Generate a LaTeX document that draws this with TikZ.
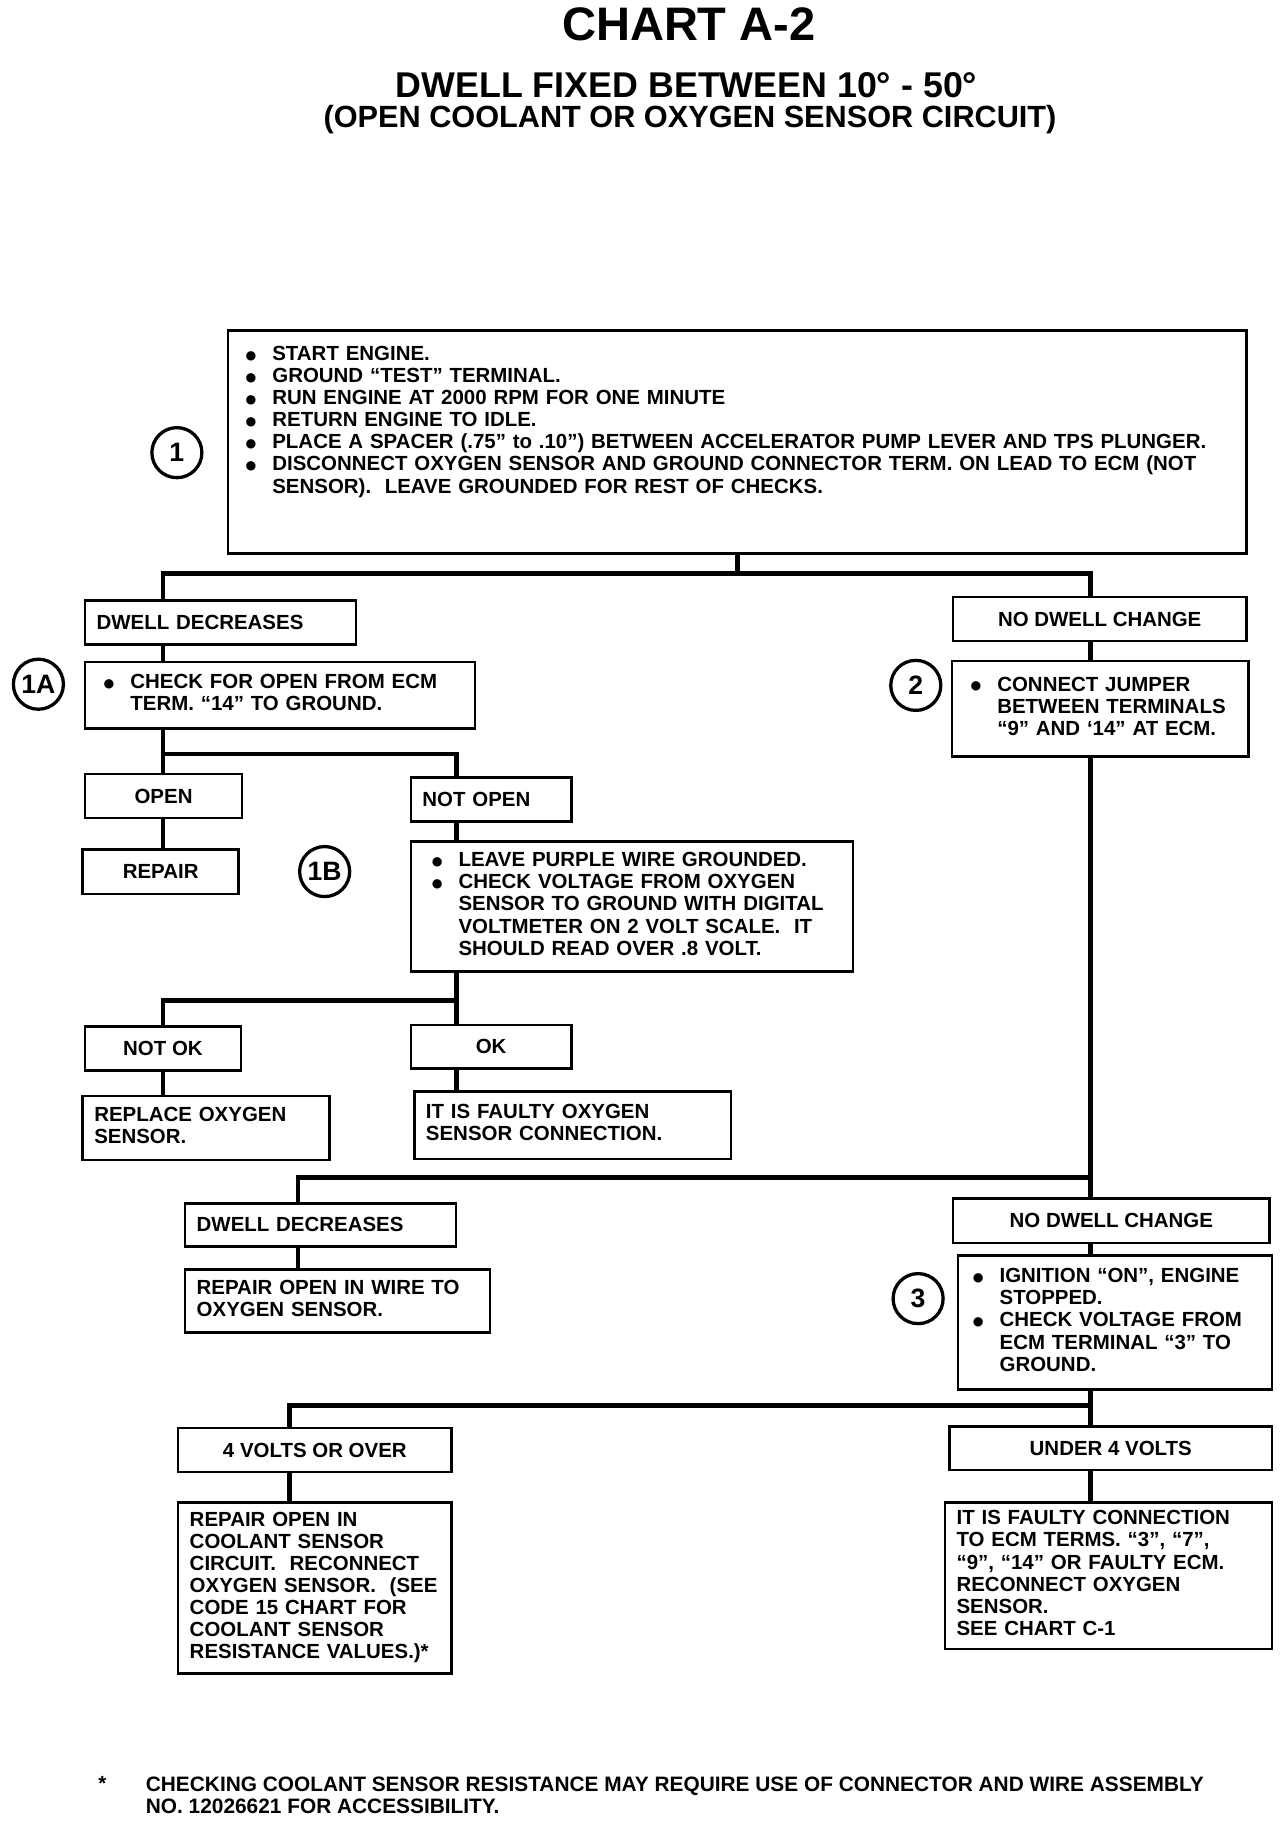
\documentclass[tikz,border=0pt]{standalone}
\usepackage{fontspec}
\setmainfont{Liberation Sans}
\newfontfamily\symfont{DejaVu Sans}
\usepackage{array}
\newcommand{\txtrows}[2][c]{\begin{tabular}[#1]{@{}l@{}}#2\end{tabular}}
\newcommand{\blist}[2][c]{\begin{tabular}[#1]{@{}p{0.46cm}@{}l@{}}#2\end{tabular}}
\newcommand{\bdot}{\raisebox{0.6pt}{\symfont\fontsize{6}{7}\selectfont ●}}

\begin{document}
\begin{tikzpicture}[
        font=\fontsize{10}{10.8}\selectfont\bfseries,
        box/.style={draw, line width=1.2pt, anchor=north west, align=left, inner xsep=0.2cm, inner ysep=0pt},
        cbox/.style={box, align=center},
        num/.style={draw, circle, line width=1.6pt, minimum size=0.86cm, inner sep=0pt, font=\fontsize{13}{13}\selectfont\bfseries},
        link/.style={line width=2.3pt}]
        \useasboundingbox (0,0) rectangle (22,-31.35);

        \node[font=\fontsize{23}{27}\selectfont\bfseries] (title) at (11.84,-0.42) {CHART A-2};
        \node[font=\fontsize{17.5}{21}\selectfont\bfseries] (sub) at (11.80,-1.46) {DWELL FIXED BETWEEN 10° - 50°};
        \node[font=\fontsize{15}{18}\selectfont\bfseries] (subb) at (11.86,-2.06) {(OPEN COOLANT OR OXYGEN SENSOR CIRCUIT)};

        \node[box, text width=16.9cm, inner xsep=0.3cm, inner ysep=0.25cm, text depth=3.07cm] (start) at (3.90,-5.66)
            {\blist[t]{\bdot & START ENGINE.\\
                \bdot & GROUND “TEST” TERMINAL.\\
                \bdot & RUN ENGINE AT 2000 RPM FOR ONE MINUTE\\
                \bdot & RETURN ENGINE TO IDLE.\\
                \bdot & PLACE A SPACER (.75” to .10”) BETWEEN ACCELERATOR PUMP LEVER AND TPS PLUNGER.\\
                \bdot & DISCONNECT OXYGEN SENSOR AND GROUND CONNECTOR TERM. ON LEAD TO ECM (NOT\\
                & SENSOR).\ \ LEAVE GROUNDED FOR REST OF CHECKS.}};
        \node[num] (n1) at (3.04,-7.78) {1};

        \node[box, text width=4.26cm, minimum height=0.76cm] (dd1) at (1.44,-10.30) {DWELL DECREASES};
        \node[box, text width=6.06cm, inner xsep=0.32cm, minimum height=1.14cm] (chk1a) at (1.44,-11.36)
            {\blist{\bdot & CHECK FOR OPEN FROM ECM\\ & TERM. “14” TO GROUND.}};
        \node[num] (n1a) at (0.66,-11.76) {1A};
        \node[cbox, minimum width=2.70cm, minimum height=0.76cm] (open) at (1.44,-13.28) {OPEN};
        \node[cbox, minimum width=2.68cm, minimum height=0.76cm] (repair) at (1.40,-14.58) {REPAIR};
        \node[box, text width=2.36cm, minimum height=0.76cm] (notopen) at (7.04,-13.34) {NOT OPEN};
        \node[box, text width=6.88cm, inner xsep=0.36cm, minimum height=2.24cm] (chk1b) at (7.04,-14.44)
            {\blist{\bdot & LEAVE PURPLE WIRE GROUNDED.\\
                \bdot & CHECK VOLTAGE FROM OXYGEN\\
                & SENSOR TO GROUND WITH DIGITAL\\
                & VOLTMETER ON 2 VOLT SCALE.\ \ IT\\
                & SHOULD READ OVER .8 VOLT.}};
        \node[num] (n1b) at (5.58,-14.98) {1B};
        \node[cbox, minimum width=2.68cm, minimum height=0.76cm] (notok) at (1.44,-17.62) {NOT OK};
        \node[box, text width=3.84cm, minimum height=1.10cm] (replace) at (1.40,-18.82)
            {\txtrows{REPLACE OXYGEN\\ SENSOR.}};
        \node[cbox, minimum width=2.76cm, minimum height=0.74cm] (ok) at (7.04,-17.60) {OK};
        \node[box, text width=5.04cm, minimum height=1.16cm] (faulty) at (7.10,-18.74)
            {\txtrows{IT IS FAULTY OXYGEN\\ SENSOR CONNECTION.}};

        \node[cbox, minimum width=5.04cm, minimum height=0.76cm] (ndc1) at (16.36,-10.24) {NO DWELL CHANGE};
        \node[box, text width=4.46cm, inner xsep=0.32cm, minimum height=1.64cm] (jumper) at (16.34,-11.34)
            {\blist{\bdot & CONNECT JUMPER\\ & BETWEEN TERMINALS\\ & “9” AND ‘14” AT ECM.}};
        \node[num] (n2) at (15.74,-11.78) {2};
        \node[box, text width=4.26cm, minimum height=0.74cm] (dd2) at (3.16,-20.66) {DWELL DECREASES};
        \node[box, text width=4.84cm, minimum height=1.08cm] (repwire) at (3.16,-21.80)
            {\txtrows{REPAIR OPEN IN WIRE TO\\ OXYGEN SENSOR.}};
        \node[cbox, minimum width=5.44cm, minimum height=0.76cm] (ndc2) at (16.36,-20.58) {NO DWELL CHANGE};
        \node[box, text width=4.88cm, inner xsep=0.26cm, minimum height=2.30cm] (ign) at (16.44,-21.56)
            {\blist{\bdot & IGNITION “ON”, ENGINE\\
                & STOPPED.\\
                \bdot & CHECK VOLTAGE FROM\\
                & ECM TERMINAL “3” TO\\
                & GROUND.}};
        \node[num] (n3) at (15.78,-22.32) {3};
        \node[cbox, minimum width=4.70cm, minimum height=0.76cm] (over4) at (3.04,-24.52) {4 VOLTS OR OVER};
        \node[box, text width=4.30cm, minimum height=2.94cm] (repcool) at (3.04,-25.80)
            {\txtrows{REPAIR OPEN IN\\ COOLANT SENSOR\\ CIRCUIT.\ \ RECONNECT\\ OXYGEN SENSOR.\ \ (SEE\\
                CODE 15 CHART FOR\\ COOLANT SENSOR\\ RESISTANCE VALUES.)*}};
        \node[cbox, minimum width=5.54cm, minimum height=0.74cm] (under4) at (16.30,-24.50) {UNDER 4 VOLTS};
        \node[box, text width=5.22cm, minimum height=2.52cm] (faultyecm) at (16.22,-25.80)
            {\txtrows{IT IS FAULTY CONNECTION\\ TO ECM TERMS. “3”, “7”,\\ “9”, “14” OR FAULTY ECM.\\
                RECONNECT OXYGEN\\ SENSOR.\\ SEE CHART C-1}};

        \node (star) at (1.76,-30.66) {*};
        \node[anchor=west, align=left, inner sep=0pt, font=\fontsize{10.2}{10.8}\selectfont\bfseries] (note) at (2.50,-30.86)
            {CHECKING COOLANT SENSOR RESISTANCE MAY REQUIRE USE OF CONNECTOR AND WIRE ASSEMBLY\\
            NO. 12026621 FOR ACCESSIBILITY.};

        \coordinate (lx) at (2.80,0);
        \coordinate (mx) at (7.84,0);
        \coordinate (rx) at (18.74,0);
        \coordinate (ax) at (5.12,0);
        \coordinate (bx) at (4.98,0);
        \coordinate (j1) at (0,-9.86);
        \coordinate (j2) at (0,-12.96);
        \coordinate (j3) at (0,-17.20);
        \coordinate (j4) at (0,-20.24);
        \coordinate (j5) at (0,-24.16);

        \draw[link] (start.south) -- (start.south |- j1);
        \draw[link] (dd1.north -| lx) |- (j1 -| rx) -- (ndc1.north -| rx);
        \draw[link] (dd1.south -| lx) -- (chk1a.north -| lx);
        \draw[link] (chk1a.south -| lx) -- (open.north -| lx);
        \draw[link] (j2 -| lx) -| (notopen.north -| mx);
        \draw[link] (open.south -| lx) -- (repair.north -| lx);
        \draw[link] (notopen.south -| mx) -- (chk1b.north -| mx);
        \draw[link] (chk1b.south -| mx) -- (ok.north -| mx);
        \draw[link] (j3 -| mx) -| (notok.north -| lx);
        \draw[link] (notok.south -| lx) -- (replace.north -| lx);
        \draw[link] (ok.south -| mx) -- (faulty.north -| mx);

        \draw[link] (ndc1.south -| rx) -- (jumper.north -| rx);
        \draw[link] (jumper.south -| rx) -- (ndc2.north -| rx);
        \draw[link] (j4 -| rx) -| (dd2.north -| ax);
        \draw[link] (dd2.south -| ax) -- (repwire.north -| ax);
        \draw[link] (ndc2.south -| rx) -- (ign.north -| rx);
        \draw[link] (ign.south -| rx) -- (under4.north -| rx);
        \draw[link] (j5 -| rx) -| (over4.north -| bx);
        \draw[link] (over4.south -| bx) -- (repcool.north -| bx);
        \draw[link] (under4.south -| rx) -- (faultyecm.north -| rx);
    \end{tikzpicture}
\end{document}
